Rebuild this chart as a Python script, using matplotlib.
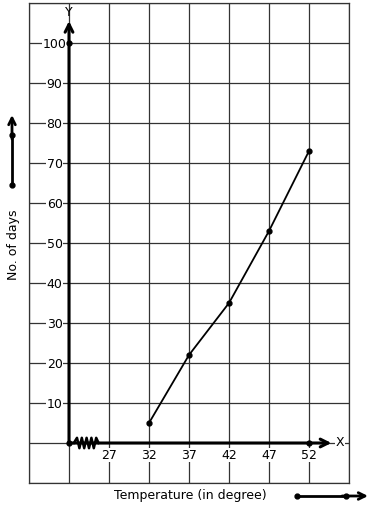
import numpy as np
import matplotlib.pyplot as plt

# data
temps = [32, 37, 42, 47, 52]
days = [5, 22, 35, 53, 73]
x_ticks = [27, 32, 37, 42, 47, 52]
y_ticks = [10, 20, 30, 40, 50, 60, 70, 80, 90, 100]
origin = (22, 0)
# zigzag (axis break) on the x axis
zz_x = [22.6, 23.0, 23.3, 23.6, 23.9, 24.2, 24.5, 24.8, 25.1, 25.4, 25.7]
zz_y = [0, 1.3, -1.3, 1.3, -1.3, 1.3, -1.3, 1.3, -1.3, 1.3, 0]

fig = plt.figure(figsize=(3.71, 5.10), dpi=100)
ax = fig.add_axes([29/371, 26/510, 320/371, 480/510])
ax.set_xlim(17, 57)
ax.set_ylim(-10, 110)
ax.set_xticks(np.arange(17, 58, 5))
ax.set_yticks(np.arange(-10, 111, 10))
ax.grid(True, color='#333333', lw=0.9)
ax.tick_params(length=0, labelbottom=False, labelleft=False)
for s in ax.spines.values():
    s.set_color('#333333')
    s.set_linewidth(0.9)

# axes with arrows
ax.annotate('', xy=(22, 105.5), xytext=origin,
            arrowprops=dict(arrowstyle='->', lw=2.2, color='black',
                            mutation_scale=14, shrinkA=0, shrinkB=0))
ax.annotate('', xy=(54.8, 0), xytext=origin,
            arrowprops=dict(arrowstyle='->', lw=2.2, color='black',
                            mutation_scale=14, shrinkA=0, shrinkB=0))
ax.plot(zz_x, zz_y, color='black', lw=1.8)
ax.plot([22, 22, 52], [0, 100, 0], 'o', color='black', ms=3.5, zorder=5)

ax.plot(temps, days, '-o', color='black', lw=1.3, ms=3.5)

bb = dict(facecolor='white', edgecolor='none', pad=0.5)
for v in y_ticks:
    ax.text(20.2, v, str(v), ha='center', va='center', fontsize=9, bbox=bb)
for v in x_ticks:
    ax.text(v, -3, str(v), ha='center', va='center', fontsize=9, bbox=bb)
ax.text(22, 107.9, 'Y', ha='center', va='center', fontsize=9)
ax.text(55.9, 0.3, 'X', ha='center', va='center', fontsize=9, bbox=bb)

fig.text(13/371, 1-245/510, 'No. of days', rotation=90, ha='center', va='center', fontsize=9)
fig.text(190/371, 1-496/510, 'Temperature (in degree)', ha='center', va='center', fontsize=9)

# direction arrows
fig.add_artist(plt.Line2D([12/371, 12/371], [1-186/510, 1-136/510], color='black', lw=2))
fig.patches.append(plt.matplotlib.patches.FancyArrowPatch(
    (12/371, 1-140/510), (12/371, 1-116/510), transform=fig.transFigure,
    arrowstyle='->', lw=2, color='black', mutation_scale=12, shrinkA=0, shrinkB=0))
fig.add_artist(plt.Line2D([12/371, 12/371], [1-186/510, 1-136/510], marker='o',
                          ls='none', color='black', ms=3.5))
fig.add_artist(plt.Line2D([297/371, 346/371], [1-497/510, 1-497/510], color='black', lw=2,
                          marker='o', ms=3.5))
fig.patches.append(plt.matplotlib.patches.FancyArrowPatch(
    (342/371, 1-497/510), (368/371, 1-497/510), transform=fig.transFigure,
    arrowstyle='->', lw=2, color='black', mutation_scale=12, shrinkA=0, shrinkB=0))

fig.savefig('out.png', dpi=100)
